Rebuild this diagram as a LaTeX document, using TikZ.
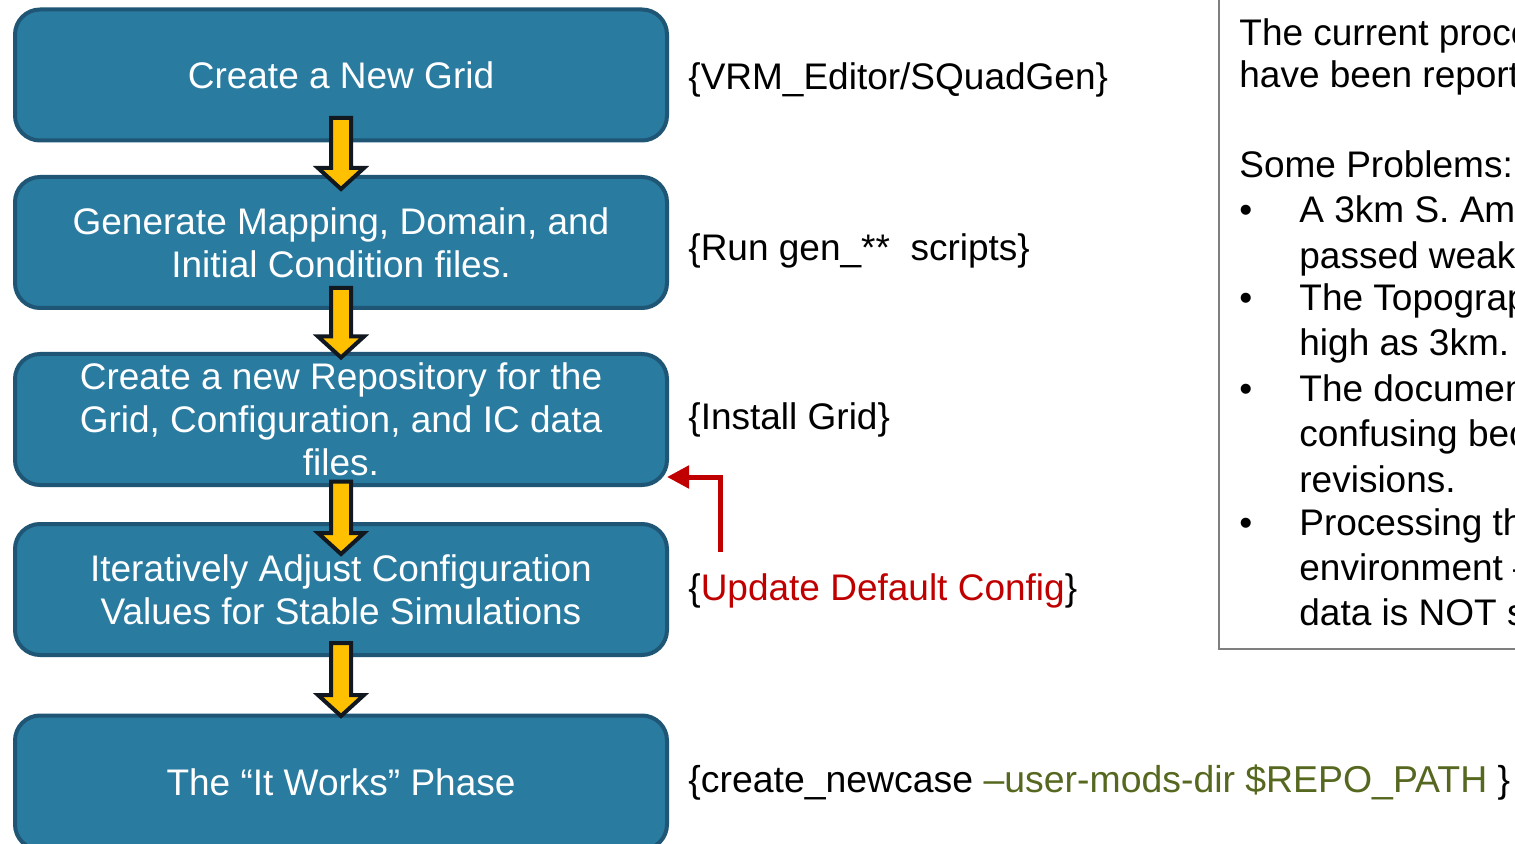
\documentclass[tikz,border=0pt]{standalone}
\usepackage{fontspec}
\setmainfont{Liberation Sans}
\usetikzlibrary{arrows.meta,calc}
\definecolor{boxfill}{HTML}{297BA0}
\definecolor{boxline}{HTML}{1F5675}
\definecolor{arrowyellow}{HTML}{FFC000}
\definecolor{arrowline}{HTML}{111820}
\definecolor{cfgred}{HTML}{C00000}
\definecolor{olivetext}{HTML}{56681F}
\definecolor{panelgray}{HTML}{7F7F7F}
\newcommand\flowarrow[2]{%
  \draw[yarrow] ($(#1)+(-10,0)$) -- ($(#1)+(10,0)$) -- ($(#2)+(10,-21)$) -- ($(#2)+(23,-21)$) -- (#2) -- ($(#2)+(-23,-21)$) -- ($(#2)+(-10,-21)$) -- cycle;}
\begin{document}
\begin{tikzpicture}[x=0.5pt,y=-0.5pt,
  font=\fontsize{18.5}{21.5}\selectfont,
  stepbox/.style={draw=boxline, line width=2pt, fill=boxfill, rounded corners=12.5pt,
    minimum width=326pt, minimum height=65.5pt, text=white, align=center,
    inner sep=0pt, outer sep=0pt},
  lbl/.style={anchor=west, inner sep=0pt},
  ptext/.style={anchor=base west, inner sep=0pt},
  yarrow/.style={draw=arrowline, fill=arrowyellow, line width=2pt, line join=miter},
  redarrow/.style={draw=cfgred, line width=2.5pt, line join=miter,
    -{Triangle[length=11pt,width=11pt]}}
]
\clip (0,0) rectangle (1515,844);
\fill[white] (0,0) rectangle (1515,844);

% flow boxes
\node[stepbox] (b1) at (341,75) {Create a New Grid};
\node[stepbox] (b2) at (341,242.5) {Generate Mapping, Domain, and\\Initial Condition files.};
\node[stepbox] (b3) at (341,419.5) {Create a new Repository for the\\Grid, Configuration, and IC data\\files.};
\node[stepbox] (b4) at (341,589.5) {Iteratively Adjust Configuration\\Values for Stable Simulations};
\node[stepbox, minimum height=67pt] (b5) at (341,782.5) {The “It Works” Phase};

% yellow arrows
\path (b1.south) ++(0,-22.5) coordinate (a1s);
\path (b2.north) ++(0,12) coordinate (a1e);
\path (b2.south) ++(0,-20) coordinate (a2s);
\path (b3.north) ++(0,3.5) coordinate (a2e);
\path (b3.south) ++(0,-3.5) coordinate (a3s);
\path (b4.north) ++(0,30) coordinate (a3e);
\path (b4.south) ++(0,-12) coordinate (a4s);
\path (b5.north) ++(0,0.5) coordinate (a4e);
\flowarrow{a1s}{a1e}
\flowarrow{a2s}{a2e}
\flowarrow{a3s}{a3e}
\flowarrow{a4s}{a4e}

% labels
\node[lbl] (l1) at (688,80) {\{VRM\_Editor/SQuadGen\}};
\node[lbl] (l2) at (688,251) {\{Run gen\_**\ \ scripts\}};
\node[lbl] (l3) at (688,420) {\{Install Grid\}};
\node[lbl] (l4) at (688,591) {\{\textcolor{cfgred}{Update Default Config}\}};
\node[lbl, font=\fontsize{18.7}{21.5}\selectfont] (l5) at (688,783) {\{create\_newcase \textcolor{olivetext}{–user-mods-dir \$REPO\_PATH} \}};

% red feedback arrow
\coordinate (rs) at (720,552);
\coordinate (rc) at (720,477);
\draw[redarrow] (rs) -- (rc) -- (rc -| b3.east);

% right panel
\draw[panelgray, line width=1pt] (1219,-10) rectangle (1560,649);
\node[ptext] (p1) at (1239,46) {The current proce};
\node[ptext] (p2) at (1239,88) {have been report};
\node[ptext] (p3) at (1239,178) {Some Problems:};
\node[ptext] (q1) at (1239,223) {•};
\node[ptext] (p4) at (1299,223) {A 3km S. Am};
\node[ptext] (p5) at (1299,269) {passed weak};
\node[ptext] (q2) at (1239,311) {•};
\node[ptext] (p6) at (1299,311) {The Topograp};
\node[ptext] (p7) at (1299,356) {high as 3km.};
\node[ptext] (q3) at (1239,402) {•};
\node[ptext] (p8) at (1299,402) {The documen};
\node[ptext] (p9) at (1299,447) {confusing bec};
\node[ptext] (p10) at (1299,493) {revisions.};
\node[ptext] (q4) at (1239,535) {•};
\node[ptext] (p11) at (1299,535) {Processing th};
\node[ptext] (p12) at (1299,580) {environment –};
\node[ptext] (p13) at (1299,625) {data is NOT s};
\end{tikzpicture}
\end{document}
